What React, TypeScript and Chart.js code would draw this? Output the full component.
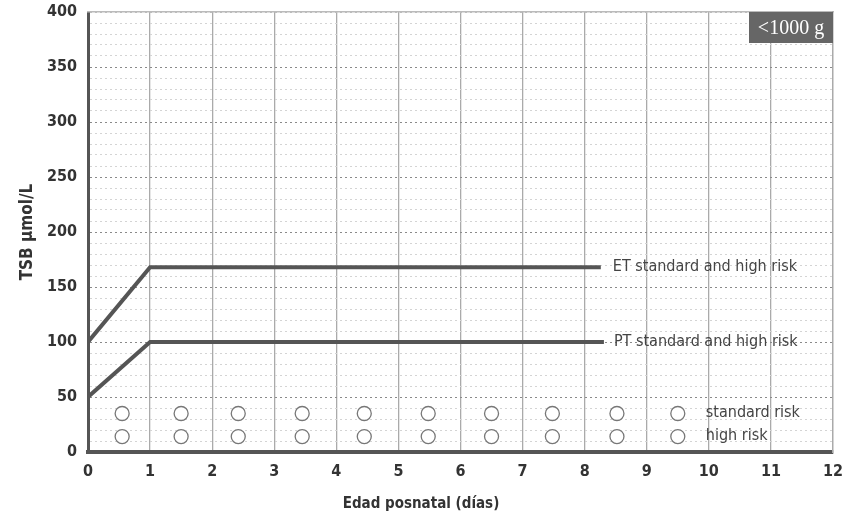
import React, { useEffect, useRef } from "react";
import { Chart, registerables } from "chart.js";

Chart.register(...registerables);

// ---- data ----
const etX = [0, 1, 8.26];
const etY = [100, 168, 168];
const ptX = [0, 1, 8.31];
const ptY = [50, 100, 100];
const circleX = [0.55, 1.5, 2.42, 3.45, 4.45, 5.48, 6.5, 7.48, 8.52, 9.5];
const standardRiskY = [35, 35, 35, 35, 35, 35, 35, 35, 35, 35];
const highRiskY = [14, 14, 14, 14, 14, 14, 14, 14, 14, 14];
const lineLabels = ["ET standard and high risk", "PT standard and high risk"];
const circleLabels = ["standard risk", "high risk"];
const badgeText = "<1000 g";
const xTitle = "Edad posnatal (días)";
const yTitle = "TSB µmol/L";

const NARROW = "'Liberation Sans Narrow', 'DejaVu Sans Condensed', 'Open Sans', sans-serif";

const toPts = (xs: number[], ys: number[]) => xs.map((x, i) => ({ x, y: ys[i] }));

const annotations = {
  id: "annotations",
  afterDatasetsDraw(chart: any) {
    const { ctx, chartArea, scales } = chart;
    const xs = scales.x;
    const ys = scales.y;
    ctx.save();
    ctx.fillStyle = "#444";
    ctx.font = `16px ${NARROW}`;
    ctx.textBaseline = "middle";
    ctx.textAlign = "left";
    ctx.fillText(lineLabels[0], xs.getPixelForValue(etX[etX.length - 1]) + 12, ys.getPixelForValue(etY[etY.length - 1]));
    ctx.fillText(lineLabels[1], xs.getPixelForValue(ptX[ptX.length - 1]) + 10, ys.getPixelForValue(ptY[ptY.length - 1]));
    const lastC = circleX[circleX.length - 1];
    ctx.fillText(circleLabels[0], xs.getPixelForValue(lastC) + 28, ys.getPixelForValue(standardRiskY[0]) - 1);
    ctx.fillText(circleLabels[1], xs.getPixelForValue(lastC) + 28, ys.getPixelForValue(highRiskY[0]) - 1);
    // badge
    const bw = 84, bh = 31;
    ctx.fillStyle = "#666";
    ctx.fillRect(chartArea.right - bw, chartArea.top, bw, bh);
    ctx.fillStyle = "#fff";
    ctx.font = "20px 'Liberation Serif', serif";
    ctx.textAlign = "center";
    ctx.fillText(badgeText, chartArea.right - bw / 2, chartArea.top + bh / 2 + 1);
    ctx.restore();
  },
};

const noPad = (scale: any) => {
  scale.paddingTop = 0;
  scale.paddingBottom = 0;
  scale.paddingLeft = 0;
  scale.paddingRight = 0;
};

export default function App() {
  const ref = useRef<HTMLCanvasElement | null>(null);
  useEffect(() => {
    document.body.style.margin = "0";
    const canvas = ref.current!;
    const chart = new Chart(canvas, {
      type: "scatter",
      data: {
        datasets: [
          {
            label: "ET",
            data: toPts(etX, etY),
            showLine: true,
            borderColor: "#555",
            borderWidth: 4,
            pointRadius: 0,
            fill: false,
          },
          {
            label: "PT",
            data: toPts(ptX, ptY),
            showLine: true,
            borderColor: "#555",
            borderWidth: 4,
            pointRadius: 0,
            fill: false,
          },
          {
            label: "standard risk",
            data: toPts(circleX, standardRiskY),
            showLine: false,
            pointRadius: 7,
            pointBorderWidth: 1.3,
            pointBorderColor: "#777",
            pointBackgroundColor: "#fff",
          },
          {
            label: "high risk",
            data: toPts(circleX, highRiskY),
            showLine: false,
            pointRadius: 7,
            pointBorderWidth: 1.3,
            pointBorderColor: "#777",
            pointBackgroundColor: "#fff",
          },
        ],
      },
      options: {
        animation: false,
        responsive: false,
        events: [],
        layout: { padding: 0 },
        plugins: {
          legend: { display: false },
          tooltip: { enabled: false },
          title: {
            display: true,
            position: "bottom",
            text: xTitle,
            color: "#333",
            font: { family: NARROW, size: 15, weight: "bold", lineHeight: 1.2 },
            padding: { top: 0, bottom: 7 },
          },
        },
        scales: {
          x: {
            type: "linear",
            position: "bottom",
            min: 0,
            max: 12,
            ticks: {
              stepSize: 1,
              color: "#333",
              padding: 10,
              font: { family: NARROW, size: 16, weight: "bold" },
            },
            grid: { color: "#aaa", lineWidth: 1.3, drawTicks: false },
            border: { display: true, color: "#555", width: 4 },
            afterFit(scale: any) {
              scale.height = 43;
              noPad(scale);
            },
          },
          y: {
            type: "linear",
            position: "left",
            min: 0,
            max: 400,
            ticks: {
              stepSize: 10,
              autoSkip: false,
              color: "#333",
              padding: 11,
              font: { family: NARROW, size: 16, weight: "bold" },
              callback: (v: any) => (Number(v) % 50 === 0 ? String(v) : ""),
            },
            grid: {
              drawTicks: false,
              lineWidth: 1,
              color: (c: any) => {
                const v = c.tick ? c.tick.value : 0;
                if (v === 400) return "#bbb";
                return v % 50 === 0 ? "#8a8a8a" : "#d4d4d4";
              },
            },
            border: { display: true, color: "#555", width: 3, dash: [2, 3] },
            title: {
              display: true,
              text: yTitle,
              color: "#333",
              font: { family: NARROW, size: 17, weight: "bold" },
              padding: { top: 17, bottom: 0 },
            },
            afterFit(scale: any) {
              scale.width = 88;
              noPad(scale);
            },
          },
          xTop: {
            type: "linear",
            position: "top",
            min: 0,
            max: 12,
            ticks: { display: false },
            grid: { display: false, drawTicks: false },
            border: { display: true, color: "#bbb", width: 1.5 },
            afterFit(scale: any) {
              scale.height = 12;
              noPad(scale);
            },
          },
          yRight: {
            type: "linear",
            position: "right",
            min: 0,
            max: 400,
            ticks: { display: false },
            grid: { display: false, drawTicks: false },
            border: { display: true, color: "#aaa", width: 1.3 },
            afterFit(scale: any) {
              scale.width = 9;
              noPad(scale);
            },
          },
        },
      },
      plugins: [annotations],
    } as any);
    return () => chart.destroy();
  }, []);
  return (
    <div style={{ width: 842, height: 520, background: "#fff" }}>
      <canvas ref={ref} width={842} height={520} style={{ display: "block" }} />
    </div>
  );
}
